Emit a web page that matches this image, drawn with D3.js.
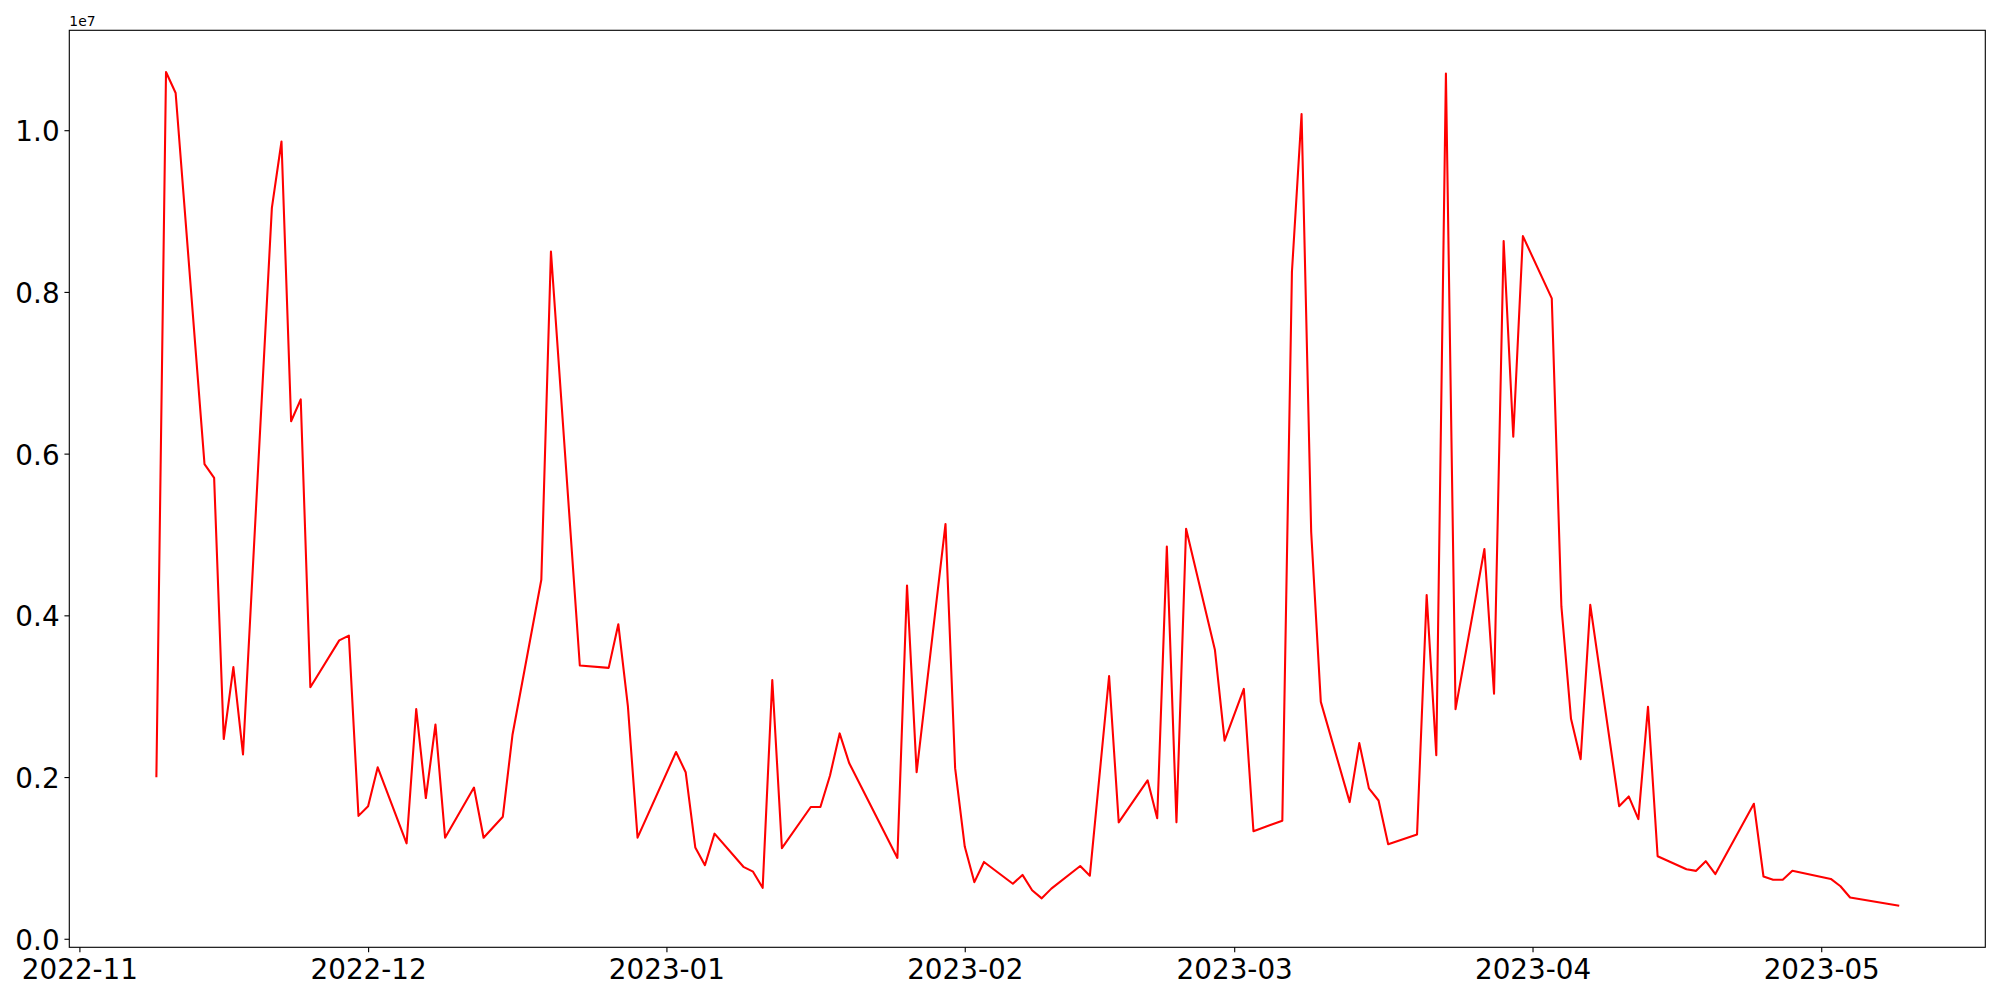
<!DOCTYPE html>
<html>
<head>
<meta charset="utf-8">
<script src="https://cdn.jsdelivr.net/npm/d3@7"></script>
<style>
  html, body { margin: 0; padding: 0; background: #fff; }
  svg { display: block; }
</style>
</head>
<body>
<svg id="chart" width="2000" height="1000"></svg>
<script>
// ---- data ----
const dates = [
  "2022-11-09","2022-11-10","2022-11-11","2022-11-14","2022-11-15","2022-11-16","2022-11-17","2022-11-18",
  "2022-11-21","2022-11-22","2022-11-23","2022-11-24","2022-11-25","2022-11-28","2022-11-29","2022-11-30",
  "2022-12-01","2022-12-02","2022-12-05","2022-12-06","2022-12-07","2022-12-08","2022-12-09","2022-12-12",
  "2022-12-13","2022-12-15","2022-12-16","2022-12-19","2022-12-20","2022-12-23","2022-12-26","2022-12-27",
  "2022-12-28","2022-12-29","2023-01-02","2023-01-03","2023-01-04","2023-01-05","2023-01-06","2023-01-09",
  "2023-01-10","2023-01-11","2023-01-12","2023-01-13","2023-01-16","2023-01-17","2023-01-18","2023-01-19",
  "2023-01-20","2023-01-25","2023-01-26","2023-01-27","2023-01-30","2023-01-31","2023-02-01","2023-02-02",
  "2023-02-03","2023-02-06","2023-02-07","2023-02-08","2023-02-09","2023-02-10","2023-02-13","2023-02-14",
  "2023-02-16","2023-02-17","2023-02-20","2023-02-21","2023-02-22","2023-02-23","2023-02-24","2023-02-27",
  "2023-02-28","2023-03-02","2023-03-03","2023-03-06","2023-03-07","2023-03-08","2023-03-09","2023-03-10",
  "2023-03-13","2023-03-14","2023-03-15","2023-03-16","2023-03-17","2023-03-20","2023-03-21","2023-03-22",
  "2023-03-23","2023-03-24","2023-03-27","2023-03-28","2023-03-29","2023-03-30","2023-03-31","2023-04-03",
  "2023-04-04","2023-04-05","2023-04-06","2023-04-07","2023-04-10","2023-04-11","2023-04-12","2023-04-13",
  "2023-04-14","2023-04-17","2023-04-18","2023-04-19","2023-04-20","2023-04-24","2023-04-25","2023-04-26",
  "2023-04-27","2023-04-28","2023-05-02","2023-05-03","2023-05-04","2023-05-09"
];
const values = [
  2010000,10720000,10460000,5870000,5700000,2470000,3360000,2280000,
  9040000,9860000,6400000,6670000,3110000,3690000,3750000,1520000,
  1640000,2120000,1180000,2840000,1740000,2650000,1250000,1870000,
  1250000,1510000,2520000,4440000,8500000,3380000,3350000,3890000,
  2870000,1250000,2310000,2060000,1130000,910000,1300000,890000,
  830000,630000,3200000,1120000,1630000,1630000,2020000,2540000,
  2170000,1000000,4370000,2060000,5130000,2110000,1140000,700000,
  950000,680000,790000,600000,500000,620000,900000,780000,
  3250000,1440000,1960000,1490000,4850000,1440000,5070000,3570000,
  2450000,3090000,1330000,1460000,8250000,10200000,5030000,2930000,
  1690000,2420000,1860000,1710000,1170000,1290000,4250000,2270000,
  10700000,2840000,4820000,3030000,8630000,6210000,8690000,7920000,
  4110000,2720000,2220000,4130000,1640000,1760000,1480000,2870000,
  1020000,860000,840000,960000,800000,1670000,770000,730000,
  730000,840000,740000,650000,510000,410000
];
const yTickValues = [0, 2000000, 4000000, 6000000, 8000000, 10000000];
const yTickLabels = ["0.0", "0.2", "0.4", "0.6", "0.8", "1.0"];
const offsetLabel = "1e7";
const xTickFormat = "%Y-%m";

// ---- layout ----
const W = 2000, H = 1000;
const L = 69.3, R = 1985.3, T = 30.3, B = 947.3;
const FONT = "'DejaVu Sans', sans-serif";
const tickLen = 4.86, tickPad = 4.86, spineW = 1.11;

const parse = d3.utcParse("%Y-%m-%d");
const data = dates.map((d, i) => ({ date: parse(d), value: values[i] }));

// matplotlib-like 5% margins
const xExt = d3.extent(data, d => +d.date);
const xPad = (xExt[1] - xExt[0]) * 0.05;
const yExt = d3.extent(data, d => d.value);
const yPad = (yExt[1] - yExt[0]) * 0.05;

const x = d3.scaleUtc()
  .domain([new Date(xExt[0] - xPad), new Date(xExt[1] + xPad)])
  .range([L, R]);
const y = d3.scaleLinear()
  .domain([yExt[0] - yPad, yExt[1] + yPad])
  .range([B, T]);

const svg = d3.select("#chart");
svg.append("rect").attr("width", W).attr("height", H).attr("fill", "#fff");

// line
const line = d3.line().x(d => x(d.date)).y(d => y(d.value));
svg.append("path")
  .datum(data)
  .attr("fill", "none")
  .attr("stroke", "#ff0000")
  .attr("stroke-width", 2.08)
  .attr("stroke-linejoin", "round")
  .attr("stroke-linecap", "square")
  .attr("d", line);

// axes
const xAxis = d3.axisBottom(x)
  .ticks(d3.utcMonth.every(1))
  .tickFormat(d3.utcFormat(xTickFormat))
  .tickSize(tickLen).tickPadding(tickPad).tickSizeOuter(0);
const gx = svg.append("g").attr("transform", `translate(0,${B})`).call(xAxis);
gx.select(".domain").remove();
gx.selectAll(".tick line").attr("stroke", "#000").attr("stroke-width", spineW);
gx.selectAll(".tick text")
  .attr("fill", "#000")
  .attr("font-family", FONT)
  .attr("font-size", "27.8px")
  .attr("dy", "0.79em");

const yAxis = d3.axisLeft(y)
  .tickValues(yTickValues)
  .tickFormat((d, i) => yTickLabels[i])
  .tickSize(tickLen).tickPadding(tickPad).tickSizeOuter(0);
const gy = svg.append("g").attr("transform", `translate(${L},0)`).call(yAxis);
gy.select(".domain").remove();
gy.selectAll(".tick line").attr("stroke", "#000").attr("stroke-width", spineW);
gy.selectAll(".tick text")
  .attr("fill", "#000")
  .attr("font-family", FONT)
  .attr("font-size", "27.8px")
  .attr("dy", "0.38em");

// spines
svg.append("rect")
  .attr("x", L).attr("y", T)
  .attr("width", R - L).attr("height", B - T)
  .attr("fill", "none")
  .attr("stroke", "#000")
  .attr("stroke-width", spineW);

// offset text
svg.append("text")
  .attr("x", L).attr("y", 26)
  .attr("font-family", FONT)
  .attr("font-size", "13.9px")
  .attr("fill", "#000")
  .text(offsetLabel);
</script>
</body>
</html>
